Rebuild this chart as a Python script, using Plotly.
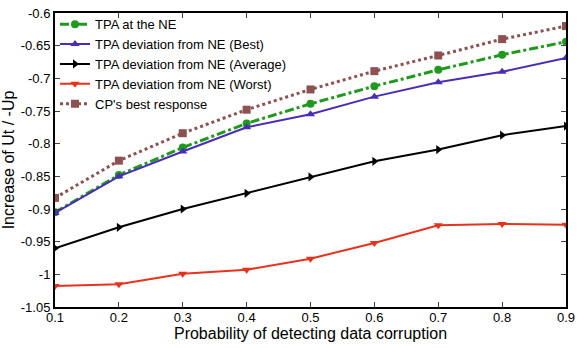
import plotly.graph_objects as go

x = [0.1, 0.2, 0.3, 0.4, 0.5, 0.6, 0.7, 0.8, 0.9]
tpa_ne = [-0.905, -0.848, -0.806, -0.769, -0.739, -0.712, -0.687, -0.664, -0.644]
dev_best = [-0.906, -0.850, -0.812, -0.775, -0.755, -0.728, -0.706, -0.690, -0.669]
dev_avg = [-0.960, -0.928, -0.900, -0.876, -0.851, -0.827, -0.809, -0.787, -0.773]
dev_worst = [-1.018, -1.015, -0.999, -0.993, -0.976, -0.952, -0.925, -0.923, -0.924]
cp_best = [-0.883, -0.826, -0.784, -0.748, -0.717, -0.689, -0.665, -0.640, -0.620]

names = ["TPA at the NE", "TPA deviation from NE (Best)", "TPA deviation from NE (Average)",
         "TPA deviation from NE (Worst)", "CP's best response"]
xticks = [0.1, 0.2, 0.3, 0.4, 0.5, 0.6, 0.7, 0.8, 0.9]
yticks = [-1.05, -1, -0.95, -0.9, -0.85, -0.8, -0.75, -0.7, -0.65, -0.6]

fig = go.Figure()
fig.add_trace(go.Scatter(x=x, y=tpa_ne, name=names[0], mode="lines+markers",
                         line=dict(color="#1f9a1f", width=3, dash="dashdot"),
                         marker=dict(symbol="circle", size=8, color="#1f9a1f")))
fig.add_trace(go.Scatter(x=x, y=dev_best, name=names[1], mode="lines+markers",
                         line=dict(color="#4b2db5", width=2),
                         marker=dict(symbol="triangle-up", size=8, color="#4b2db5")))
fig.add_trace(go.Scatter(x=x, y=dev_avg, name=names[2], mode="lines+markers",
                         line=dict(color="black", width=2),
                         marker=dict(symbol="triangle-right", size=8, color="black")))
fig.add_trace(go.Scatter(x=x, y=dev_worst, name=names[3], mode="lines+markers",
                         line=dict(color="#e8321e", width=2),
                         marker=dict(symbol="triangle-down", size=8, color="#e8321e")))
fig.add_trace(go.Scatter(x=x, y=cp_best, name=names[4], mode="lines+markers",
                         line=dict(color="#8c5151", width=3, dash="dot"),
                         marker=dict(symbol="square", size=8, color="#8c5151")))

fig.update_layout(
    width=581, height=348,
    margin=dict(l=54, r=6, t=10, b=41),
    paper_bgcolor="white", plot_bgcolor="white",
    font=dict(family="Liberation Sans, Arial, sans-serif", color="black", size=13),
    legend=dict(x=0.0, y=1.013, xanchor="left", yanchor="top",
                bgcolor="rgba(255,255,255,0)", font=dict(size=13),
                itemwidth=30, tracegroupgap=0),
    showlegend=True,
)
fig.update_xaxes(range=[0.1, 0.9], tickvals=xticks, ticktext=[str(v) for v in xticks],
                 ticks="inside", ticklen=5, tickwidth=1, mirror="ticks", showline=True,
                 linecolor="black", linewidth=2, showgrid=False, zeroline=False,
                 ticklabeloverflow="allow", ticklabelstandoff=-3,
                 title=dict(text="Probability of detecting data corruption", font=dict(size=16), standoff=0),
                 tickfont=dict(size=13))
fig.update_yaxes(range=[-1.05, -0.6], tickvals=yticks, ticktext=[("%g" % v) for v in yticks],
                 ticks="inside", ticklen=5, tickwidth=1, mirror="ticks", showline=True,
                 linecolor="black", linewidth=2, showgrid=False, zeroline=False,
                 ticklabeloverflow="allow",
                 title=dict(text="Increase of Ut / -Up", font=dict(size=16), standoff=4),
                 tickfont=dict(size=13))

fig.write_html("out.html", config={"displayModeBar": False},
               post_script="document.body.style.margin='0px';")
